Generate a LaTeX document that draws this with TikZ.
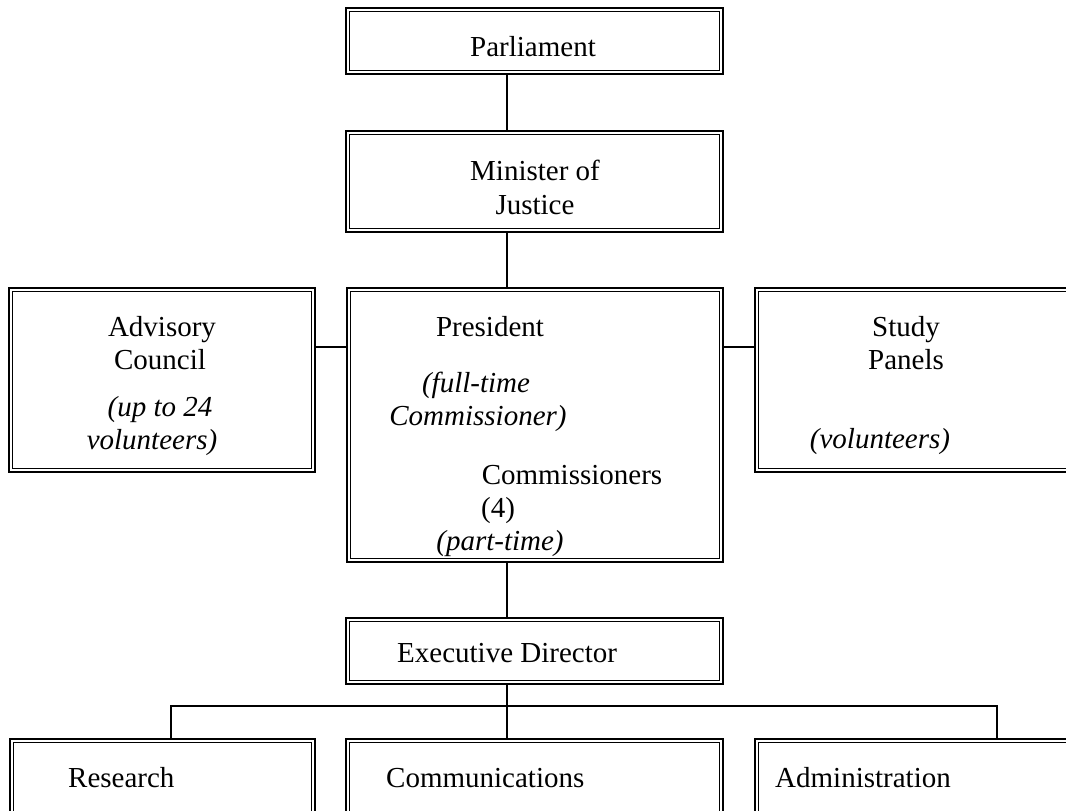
\documentclass[tikz,border=0pt]{standalone}
\usepackage{fontspec}
\setmainfont{Liberation Serif}
\begin{document}
\begin{tikzpicture}[x=1pt,y=-1pt,
  orgbox/.style={draw=black, line width=2.3pt, inner sep=0pt, outer sep=0pt, rectangle,
    append after command={
      \pgfextra{\draw[line width=1pt]
        ([shift={(3.4pt,-3.4pt)}]\tikzlastnode.north west) rectangle
        ([shift={(-3.4pt,3.4pt)}]\tikzlastnode.south east);}}},
  lbl/.style={inner sep=0pt, font=\fontsize{29}{33}\selectfont},
  ilbl/.style={lbl, font=\fontsize{29}{33}\selectfont\itshape},
  link/.style={draw=black, line width=1.3pt}]
\useasboundingbox (0,0) rectangle (1066,811);
\clip (0,0) rectangle (1066,811);
\fill[white] (0,0) rectangle (1066,811);

% boxes
\node[orgbox, minimum width=376.6pt, minimum height=65.6pt] (parl) at (534.5,41) {};
\node[orgbox, minimum width=376.6pt, minimum height=100.6pt] (mini) at (534.5,181.5) {};
\node[orgbox, minimum width=305.6pt, minimum height=183.6pt] (adv) at (162,380) {};
\node[orgbox, minimum width=375.6pt, minimum height=273.6pt] (pres) at (535,425) {};
\node[orgbox, minimum width=333.6pt, minimum height=183.6pt] (study) at (922,380) {};
\node[orgbox, minimum width=376.6pt, minimum height=65.6pt] (exec) at (534.5,651) {};
\node[orgbox, minimum width=304.6pt, minimum height=119.6pt] (res) at (162.5,799) {};
\node[orgbox, minimum width=376.6pt, minimum height=119.6pt] (comm) at (534.5,799) {};
\node[orgbox, minimum width=333.6pt, minimum height=119.6pt] (adm) at (922,799) {};

% helper coordinates
\coordinate (spine) at (507,0);
\coordinate (hy) at (0,347);
\coordinate (bl) at (171,706);
\coordinate (br) at (997,706);

% connectors
\draw[link] (parl.south -| spine) -- (mini.north -| spine);
\draw[link] (mini.south -| spine) -- (pres.north -| spine);
\draw[link] (adv.east |- hy) -- (pres.west |- hy);
\draw[link] (pres.east |- hy) -- (study.west |- hy);
\draw[link] (pres.south -| spine) -- (exec.north -| spine);
\draw[link] (exec.south -| spine) -- (comm.north -| spine);
\draw[link] (res.north -| bl) -- (bl) -- (br) -- (adm.north -| br);

% texts
\node[lbl, anchor=base] (tparl) at (533,56) {Parliament};
\node[lbl, anchor=base] (tmin1) at (535,180) {Minister of};
\node[lbl, anchor=base] (tmin2) at (535,214) {Justice};
\node[lbl, anchor=base] (tadv1) at (162,336) {Advisory};
\node[lbl, anchor=base] (tadv2) at (160,369) {Council};
\node[ilbl, anchor=base] (tadv3) at (160,416) {(up to 24};
\node[ilbl, anchor=base] (tadv4) at (152,449) {volunteers)};
\node[lbl, anchor=base] (tpres1) at (490,336) {President};
\node[ilbl, anchor=base] (tpres2) at (476,392) {(full-time};
\node[ilbl, anchor=base] (tpres3) at (478,425) {Commissioner)};
\node[lbl, anchor=base] (tpres4) at (572,484) {Commissioners};
\node[lbl, anchor=base] (tpres5) at (498,517) {(4)};
\node[ilbl, anchor=base] (tpres6) at (500,550) {(part-time)};
\node[lbl, anchor=base] (tst1) at (906,336) {Study};
\node[lbl, anchor=base] (tst2) at (906,369) {Panels};
\node[ilbl, anchor=base] (tst3) at (880,448) {(volunteers)};
\node[lbl, anchor=base west] (texec) at (397,662) {Executive Director};
\node[lbl, anchor=base west] (tres) at (68,787) {Research};
\node[lbl, anchor=base west] (tcomm) at (386,787) {Communications};
\node[lbl, anchor=base west] (tadm) at (775,787) {Administration};
\end{tikzpicture}
\end{document}
